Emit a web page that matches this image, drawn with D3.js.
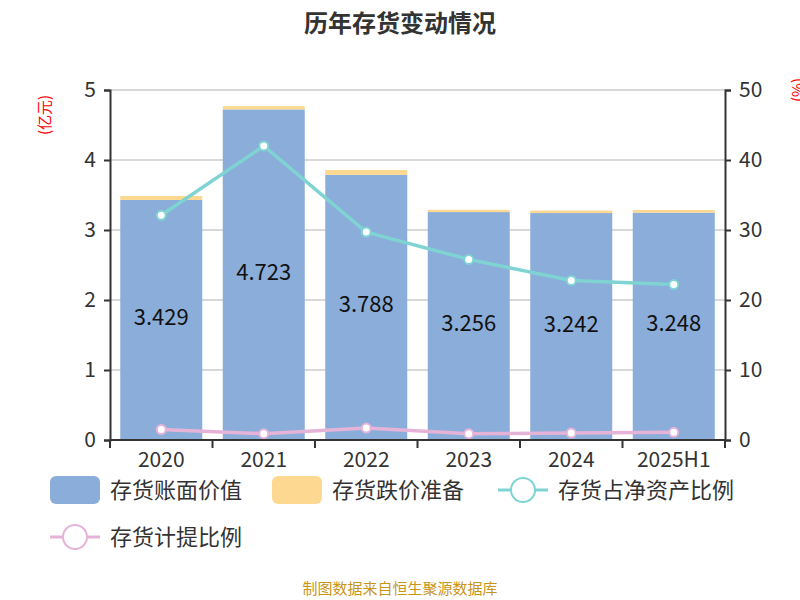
<!DOCTYPE html><html><head><meta charset="utf-8"><script src="https://cdn.jsdelivr.net/npm/d3@7"></script>
<style>body{margin:0;background:#fff}text{font-family:"Noto Sans CJK SC","Noto Sans",sans-serif}</style></head><body>
<svg id="c" width="800" height="600"></svg>
<script>
const categories=["2020","2021","2022","2023","2024","2025H1"];
const bookValue=[3.429,4.723,3.788,3.256,3.242,3.248];
const provision=[0.057,0.047,0.068,0.032,0.036,0.038];
const netAssetRatio=[32.1,42.0,29.7,25.8,22.8,22.2];
const provisionRatio=[1.5,0.9,1.7,0.9,1.0,1.1];
const leftTicks=[0,1,2,3,4,5], rightTicks=[0,10,20,30,40,50];
const svg=d3.select("#c");
const L=110,R=725,T=90,B=440;
const x=d3.scaleBand().domain(categories).range([L,R]).paddingInner(0.2).paddingOuter(0.1);
const y=d3.scaleLinear().domain([0,5]).range([B,T]);
const y2=d3.scaleLinear().domain([0,50]).range([B,T]);
svg.append("text").attr("x",400).attr("y",32).attr("text-anchor","middle").attr("font-size",24).attr("font-weight","bold").attr("fill","#333").text("历年存货变动情况");
svg.append("g").selectAll("line").data(leftTicks.slice(1)).join("line").attr("x1",L).attr("x2",R).attr("y1",d=>y(d)).attr("y2",d=>y(d)).attr("stroke","#ccc").attr("stroke-width",1.5);
const g=svg.append("g");
g.selectAll(".b").data(categories).join("rect").attr("x",d=>x(d)).attr("width",x.bandwidth()).attr("y",(d,i)=>y(bookValue[i])).attr("height",(d,i)=>B-y(bookValue[i])).attr("fill","#8badd9");
g.selectAll(".p").data(categories).join("rect").attr("x",d=>x(d)).attr("width",x.bandwidth()).attr("y",(d,i)=>y(bookValue[i]+provision[i])).attr("height",(d,i)=>y(bookValue[i])-y(bookValue[i]+provision[i])).attr("fill","#fdd891");
g.selectAll(".t").data(categories).join("text").attr("x",d=>x(d)+x.bandwidth()/2).attr("y",(d,i)=>y(bookValue[i]/2)+5).attr("text-anchor","middle").attr("font-size",22).attr("fill","#111").text((d,i)=>bookValue[i].toFixed(3));
function line(data,color){
 const cx=d=>x(d)+x.bandwidth()/2;
 svg.append("path").datum(data).attr("fill","none").attr("stroke",color).attr("stroke-width",3.5).attr("d",d3.line().x((d,i)=>cx(categories[i])).y(d=>y2(d)));
 svg.append("g").selectAll("circle").data(data).join("circle").attr("cx",(d,i)=>cx(categories[i])).attr("cy",d=>y2(d)).attr("r",4.5).attr("fill","#fff").attr("stroke",color).attr("stroke-width",2);
}
line(netAssetRatio,"#7fd3d3");
line(provisionRatio,"#e6b3d8");
const la=svg.append("g").attr("transform",`translate(${L},0)`).call(d3.axisLeft(y).tickValues(leftTicks).tickFormat(d3.format("d")).tickSize(6).tickPadding(8));
const ra=svg.append("g").attr("transform",`translate(${R},0)`).call(d3.axisRight(y2).tickValues(rightTicks).tickFormat(d3.format("d")).tickSize(6).tickPadding(8));
const ba=svg.append("g").attr("transform",`translate(0,${B})`).call(d3.axisBottom(x).tickSize(0).tickPadding(12));
const step=(R-L)/categories.length;
svg.append("g").selectAll("line").data(d3.range(categories.length+1)).join("line").attr("x1",i=>L+i*step).attr("x2",i=>L+i*step).attr("y1",B).attr("y2",B+8).attr("stroke","#333").attr("stroke-width",2);
[la,ra,ba].forEach(a=>{a.selectAll("path,line").attr("stroke","#333").attr("stroke-width",2);a.selectAll("text").attr("font-size",21).attr("fill","#333").attr("font-family","'Noto Sans CJK SC',sans-serif");});
ba.select(".domain").attr("d",`M${L},0H${R}`);
svg.append("text").attr("transform","translate(50,115) rotate(-90)").attr("text-anchor","middle").attr("font-size",15).attr("fill","red").text("(亿元)");
svg.append("text").attr("transform","translate(803,90) rotate(-90)").attr("text-anchor","middle").attr("font-size",15).attr("fill","red").text("(%)");
const leg=[["存货账面价值","rect","#8badd9",50,490],["存货跌价准备","rect","#fdd891",272,490],["存货占净资产比例","line","#7fd3d3",498,490],["存货计提比例","line","#e6b3d8",50,537]];
leg.forEach(([t,k,c,lx,ly])=>{
 if(k=="rect") svg.append("rect").attr("x",lx).attr("y",ly-14).attr("width",50).attr("height",28).attr("rx",6).attr("fill",c);
 else{svg.append("line").attr("x1",lx).attr("x2",lx+50).attr("y1",ly).attr("y2",ly).attr("stroke",c).attr("stroke-width",3);
  svg.append("circle").attr("cx",lx+25).attr("cy",ly).attr("r",12).attr("fill","#fff").attr("stroke",c).attr("stroke-width",2);}
 svg.append("text").attr("x",lx+60).attr("y",ly+8).attr("font-size",22).attr("fill","#333").text(t);
});
svg.append("text").attr("x",400).attr("y",594).attr("text-anchor","middle").attr("font-size",15).attr("fill","#c9961a").text("制图数据来自恒生聚源数据库");
</script></body></html>
